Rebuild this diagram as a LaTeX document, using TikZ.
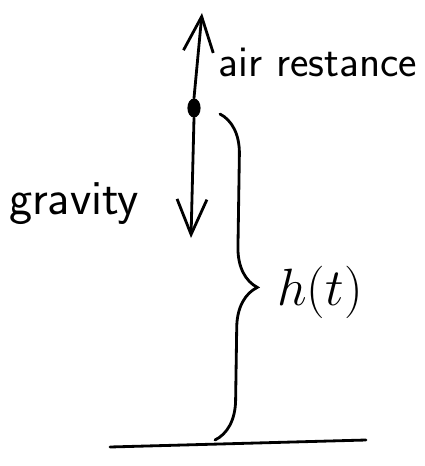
\documentclass[tikz,border=0pt]{standalone}
\usepackage{tikz}
\usetikzlibrary{arrows.meta,shapes.geometric,decorations.pathreplacing}

\tikzset{
  pen/.style={line width=1.6pt, line cap=round},
  force/.style={pen, -{Straight Barb[length=20pt,width=17pt,line width=1.6pt]}},
  ball/.style={ellipse, fill=black, inner sep=0pt, minimum width=7.5pt, minimum height=11pt},
  hand/.style={font=\fontsize{25}{27}\selectfont\sffamily, inner sep=0pt},
}

\begin{document}
\begin{tikzpicture}[x=0.02cm, y=-0.02cm]
	\useasboundingbox (0,0) rectangle (425,466);

	% falling body
	\node[ball] (ball) at (194,108) {};
	\coordinate (uptip) at (202,13);
	\coordinate (downtip) at (191,238);
	\draw[force] (ball.north) -- (uptip);
	\draw[force] (ball.south) -- (downtip);

	% labels
	\node[hand] (air) at (318,62) {air restance};
	\node[hand, font=\fontsize{28}{30}\selectfont\sffamily] (grav) at (74,204) {gravity};

	% height brace and ground
	\coordinate (btop) at (220,114);
	\coordinate (bbot) at (215,440);
	\draw[pen, decorate, decoration={brace, amplitude=0.8cm, aspect=0.53}] (btop) -- (bbot);
	\node[hand, font=\fontsize{24}{26}\selectfont, scale=1.2] (height) at (320,292) {$h(t)$};

	\coordinate (gl) at (110,447);
	\coordinate (gr) at (366,440);
	\draw[pen] (gl) -- (gr);
\end{tikzpicture}
\end{document}
